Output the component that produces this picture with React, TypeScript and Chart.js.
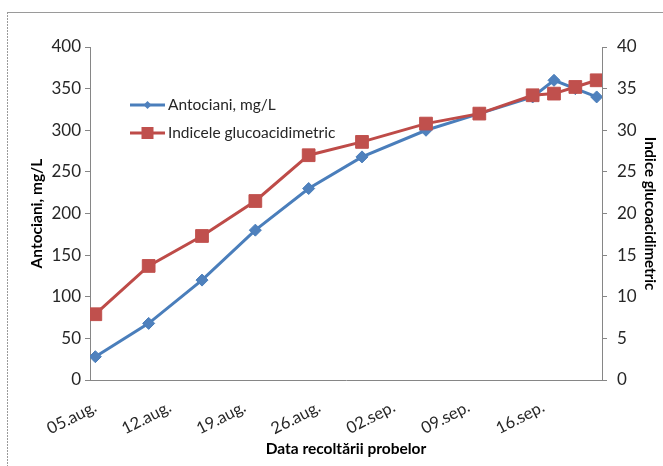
import { useEffect, useRef } from 'react';
import { Chart, registerables } from 'chart.js';

Chart.register(...registerables);

// Sampling dates as [month, day]; the year is only needed to count days.
const sampleDates: [number, number][] = [
  [8, 5], [8, 10], [8, 15], [8, 20], [8, 25], [8, 30],
  [9, 5], [9, 10], [9, 15], [9, 17], [9, 19], [9, 21],
];

const antociani = [28, 68, 120, 180, 230, 268, 300, 320, 340, 360, 350, 340];
const indiceGlucoacidimetric = [7.9, 13.7, 17.3, 21.5, 27.0, 28.6, 30.8, 32.0, 34.2, 34.4, 35.2, 36.0];

const tickDates: [number, number][] = [[8, 5], [8, 12], [8, 19], [8, 26], [9, 2], [9, 9], [9, 16]];
const tickLabels = ['05.aug.', '12.aug.', '19.aug.', '26.aug.', '02.sep.', '09.sep.', '16.sep.'];

const seriesNames = ['Antociani, mg/L', 'Indicele glucoacidimetric'];
const axisTitles = { x: 'Data recoltării probelor', y: 'Antociani, mg/L', y1: 'Indice glucoacidimetric' };

const FONT = 'Lato, "Open Sans", sans-serif';
const BLUE_LINE = '#4A7EBB';
const BLUE_FILL = '#4F81BD';
const RED_LINE = '#BE4B48';
const RED_FILL = '#C0504D';
const AXIS = '#868686';
const TEXT = '#262626';

const REF_YEAR = 2000;
const dayIndex = ([m, d]: [number, number]) =>
  Math.round((Date.UTC(REF_YEAR, m - 1, d) - Date.UTC(REF_YEAR, sampleDates[0][0] - 1, sampleDates[0][1])) / 86400000);

function drawDiamond(ctx: CanvasRenderingContext2D, x: number, y: number, r: number) {
  ctx.beginPath();
  ctx.moveTo(x - r, y);
  ctx.lineTo(x, y - r);
  ctx.lineTo(x + r, y);
  ctx.lineTo(x, y + r);
  ctx.closePath();
}

// Outer chart frame on a white background
const framePlugin = {
  id: 'frame',
  beforeDraw(chart: Chart) {
    const { ctx, width, height } = chart;
    ctx.save();
    ctx.fillStyle = '#ffffff';
    ctx.fillRect(0, 0, width, height);
    ctx.strokeStyle = '#9a9a9a';
    ctx.lineWidth = 1;
    ctx.beginPath();
    ctx.moveTo(7, 12.5);
    ctx.lineTo(width, 12.5);
    ctx.stroke();
    ctx.setLineDash([2, 1]);
    ctx.beginPath();
    ctx.moveTo(7.5, 12);
    ctx.lineTo(7.5, height);
    ctx.stroke();
    ctx.restore();
  },
};

// Legend drawn inside the plot area, top-left
const insideLegendPlugin = {
  id: 'insideLegend',
  afterDraw(chart: Chart) {
    const { ctx, chartArea } = chart;
    const x0 = chartArea.left + 40;
    const x1 = chartArea.left + 75;
    const rows = [chartArea.top + 58, chartArea.top + 86];
    ctx.save();
    ctx.font = `15.5px ${FONT}`;
    ctx.textBaseline = 'middle';
    ctx.textAlign = 'left';
    rows.forEach((y, i) => {
      const isBlue = i === 0;
      ctx.strokeStyle = isBlue ? BLUE_LINE : RED_LINE;
      ctx.lineWidth = 3;
      ctx.beginPath();
      ctx.moveTo(x0, y);
      ctx.lineTo(x1, y);
      ctx.stroke();
      const cx = (x0 + x1) / 2;
      ctx.fillStyle = isBlue ? BLUE_FILL : RED_FILL;
      if (isBlue) {
        drawDiamond(ctx, cx, y, 4);
        ctx.fill();
      } else {
        ctx.fillRect(cx - 6, y - 6, 12, 12);
      }
      ctx.fillStyle = TEXT;
      ctx.fillText(seriesNames[i], x1 + 3, y);
    });
    ctx.restore();
  },
};

export default function App() {
  const canvasRef = useRef<HTMLCanvasElement | null>(null);

  useEffect(() => {
    const canvas = canvasRef.current;
    if (!canvas) return;
    const xs = sampleDates.map(dayIndex);
    const tickValues = tickDates.map(dayIndex);

    const chart = new Chart(canvas, {
      type: 'line',
      data: {
        datasets: [
          {
            label: seriesNames[0],
            data: xs.map((x, i) => ({ x, y: antociani[i] })),
            yAxisID: 'y',
            borderColor: BLUE_LINE,
            backgroundColor: BLUE_FILL,
            borderWidth: 3,
            pointStyle: 'rectRot',
            pointRadius: 6,
            pointBackgroundColor: BLUE_FILL,
            pointBorderColor: BLUE_LINE,
            pointBorderWidth: 1,
            tension: 0,
            order: 1,
          },
          {
            label: seriesNames[1],
            data: xs.map((x, i) => ({ x, y: indiceGlucoacidimetric[i] })),
            yAxisID: 'y1',
            borderColor: RED_LINE,
            backgroundColor: RED_FILL,
            borderWidth: 3,
            pointStyle: 'rect',
            pointRadius: 9,
            pointBackgroundColor: RED_FILL,
            pointBorderColor: RED_FILL,
            pointBorderWidth: 1,
            tension: 0,
            order: 0,
          },
        ],
      },
      options: {
        animation: false,
        responsive: false,
        devicePixelRatio: 1,
        layout: { padding: { top: 47, left: 0, right: 0, bottom: 0 } },
        plugins: {
          legend: { display: false },
          tooltip: { enabled: false },
        },
        scales: {
          x: {
            type: 'linear',
            min: xs[0] - 0.5,
            max: xs[xs.length - 1] + 0.5,
            afterBuildTicks: (scale: any) => {
              scale.ticks = tickValues.map((value) => ({ value }));
            },
            afterFit: (scale: any) => {
              scale.height = 86;
            },
            grid: { display: false, drawTicks: false },
            border: { display: true, color: AXIS, width: 1 },
            ticks: {
              autoSkip: false,
              minRotation: 27,
              maxRotation: 27,
              padding: 17,
              color: TEXT,
              font: { family: FONT, size: 16.5 },
              callback: (_v: any, index: number) => tickLabels[index],
            },
            title: {
              display: true,
              text: axisTitles.x,
              color: '#000',
              font: { family: FONT, size: 15.5, weight: 'bold' },
              padding: { top: 0, bottom: 8 },
            },
          },
          y: {
            position: 'left',
            min: 0,
            max: 400,
            afterFit: (scale: any) => {
              scale.width = 90;
            },
            grid: { display: true, drawOnChartArea: false, drawTicks: true, tickLength: 5, color: AXIS },
            border: { display: true, color: AXIS, width: 1 },
            ticks: {
              stepSize: 50,
              padding: 4,
              color: TEXT,
              font: { family: FONT, size: 17 },
            },
            title: {
              display: true,
              text: axisTitles.y,
              color: '#000',
              font: { family: FONT, size: 15.5, weight: 'bold' },
              padding: { top: 28, bottom: 0 },
            },
          },
          y1: {
            position: 'right',
            min: 0,
            max: 40,
            afterFit: (scale: any) => {
              scale.width = 61;
            },
            grid: { display: true, drawOnChartArea: false, drawTicks: true, tickLength: 5, color: AXIS },
            border: { display: true, color: AXIS, width: 1 },
            ticks: {
              stepSize: 5,
              padding: 10,
              color: TEXT,
              font: { family: FONT, size: 17 },
            },
            title: {
              display: true,
              text: axisTitles.y1,
              color: '#000',
              font: { family: FONT, size: 15, weight: 'bold' },
              padding: { top: 4, bottom: 0 },
            },
          },
        },
      },
      plugins: [framePlugin, insideLegendPlugin],
    });

    return () => chart.destroy();
  }, []);

  return (
    <div style={{ position: 'fixed', left: 0, top: 0, width: 663, height: 466 }}>
      <canvas ref={canvasRef} width={663} height={466} style={{ display: 'block' }} />
    </div>
  );
}
